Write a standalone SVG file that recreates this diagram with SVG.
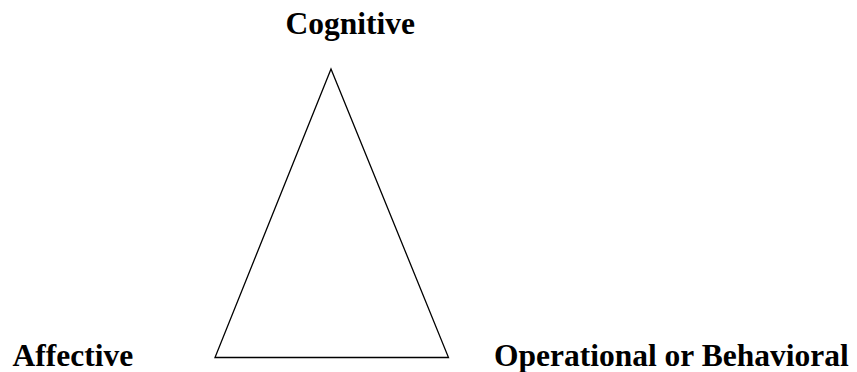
<svg xmlns="http://www.w3.org/2000/svg" width="857" height="372" viewBox="0 0 857 372">
<style>
.lbl{font-family:"Liberation Serif","Times New Roman",serif;font-weight:bold;font-size:31.5px;fill:#000}
.edge{fill:none;stroke:#000;stroke-width:1.3}
</style>
<rect width="857" height="372" fill="#fff"/>
<g id="connectors">
<path class="edge" d="M331,69 L448.5,357.5 L215,357.5 Z"/>
</g>
<g id="cognitive"><text class="lbl" x="285.5" y="34">Cognitive</text></g>
<g id="affective"><text class="lbl" x="12.5" y="365.5">Affective</text></g>
<g id="operational"><text class="lbl" x="494" y="365.5">Operational or Behavioral</text></g>
</svg>
